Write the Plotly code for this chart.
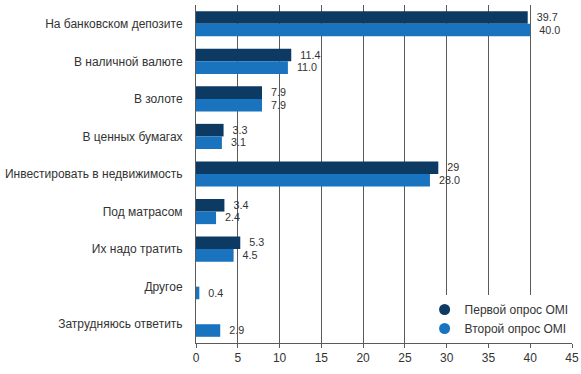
import plotly.graph_objects as go

categories = [
    "На банковском депозите",
    "В наличной валюте",
    "В золоте",
    "В ценных бумагах",
    "Инвестировать в недвижимость",
    "Под матрасом",
    "Их надо тратить",
    "Другое",
    "Затрудняюсь ответить",
]
first_survey = [39.7, 11.4, 7.9, 3.3, 29, 3.4, 5.3, None, None]
second_survey = [40.0, 11.0, 7.9, 3.1, 28.0, 2.4, 4.5, 0.4, 2.9]
first_labels = ["39.7", "11.4", "7.9", "3.3", "29", "3.4", "5.3", "", ""]
second_labels = ["40.0", "11.0", "7.9", "3.1", "28.0", "2.4", "4.5", "0.4", "2.9"]
series_names = ["Первой опрос OMI", "Второй опрос OMI"]
x_ticks = [0, 5, 10, 15, 20, 25, 30, 35, 40, 45]

dark = "#0c3a63"
light = "#1a73bf"
grid = "#5a5a5a"
font = "Arial, Liberation Sans, sans-serif"
pad = "\u00a0\u00a0"

fig = go.Figure()
for vals, labels, color in [(first_survey, first_labels, dark), (second_survey, second_labels, light)]:
    fig.add_trace(go.Bar(
        y=categories, x=vals, orientation="h",
        marker=dict(color=color, line=dict(width=0)),
        text=[pad + t if t else "" for t in labels],
        textposition="outside", cliponaxis=False,
        textfont=dict(color="#333333", size=12, family=font),
        showlegend=False, hoverinfo="x+y",
    ))
for name, color in zip(series_names, [dark, light]):
    fig.add_trace(go.Scatter(
        x=[None], y=[None], mode="markers", name=name,
        marker=dict(symbol="circle", size=11, color=color),
    ))

fig.update_layout(
    width=581, height=374,
    margin=dict(l=196, r=9, t=5, b=31, autoexpand=False),
    paper_bgcolor="white", plot_bgcolor="white",
    barmode="group", bargap=0.33, bargroupgap=0,
    font=dict(family=font, size=12, color="#333333"),
    legend=dict(x=0.608, y=0, xanchor="left", yanchor="bottom",
                bgcolor="white", font=dict(size=12, color="#333333"),
                itemwidth=30, tracegroupgap=0),
    xaxis=dict(range=[0, 45], tickvals=x_ticks, showgrid=True, gridcolor=grid,
               gridwidth=1, zeroline=False, showline=True, linecolor=grid,
               ticks="outside", ticklen=4, tickcolor=grid, automargin=False,
               tickfont=dict(size=12, color="#333333")),
    yaxis=dict(autorange="reversed", showgrid=False, showline=True,
               linecolor=grid, ticks="", ticklabelstandoff=10, automargin=False,
               tickfont=dict(size=12, color="#333333")),
)
fig.write_html("out.html", config={"displayModeBar": False},
               post_script="document.body.style.margin='0';document.body.style.overflow='hidden';")
